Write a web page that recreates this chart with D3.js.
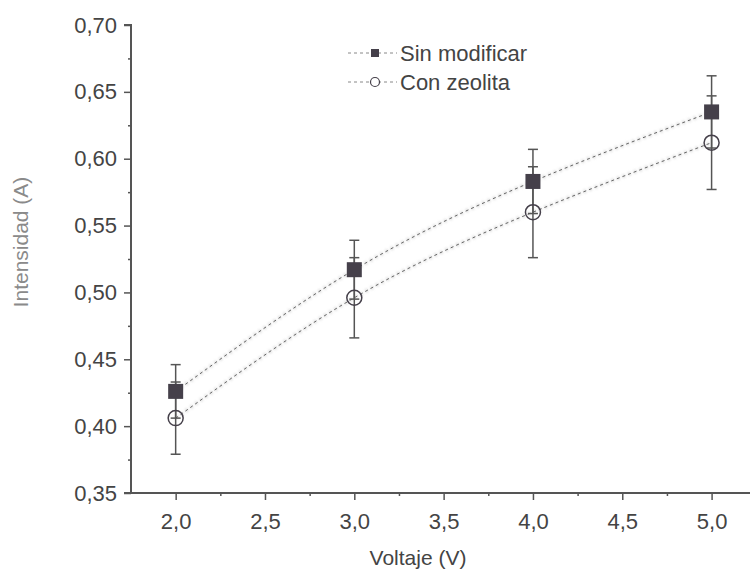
<!DOCTYPE html>
<html>
<head>
<meta charset="UTF-8">
<script src="https://d3js.org/d3.v7.min.js"></script>
<style>
  body { margin: 0; background: #fff; }
  text { font-family: "Liberation Sans", Arial, sans-serif; }
</style>
</head>
<body>
<svg width="750" height="573"></svg>
<script>
// data
const voltaje = [2.0, 3.0, 4.0, 5.0];
const sinModificar = [0.426, 0.517, 0.583, 0.635];
const sinModificarErr = [0.020, 0.022, 0.024, 0.027];
const conZeolita = [0.406, 0.496, 0.560, 0.612];
const conZeolitaErr = [0.027, 0.030, 0.034, 0.035];
const xTicks = [2.0, 2.5, 3.0, 3.5, 4.0, 4.5, 5.0];
const yTicks = [0.35, 0.40, 0.45, 0.50, 0.55, 0.60, 0.65, 0.70];

const svg = d3.select('svg');
const axisColor = '#555';
const markColor = '#45404a';
const textColor = '#444';

const x = d3.scaleLinear().domain([1.75, 5.215]).range([131, 750]);
const y = d3.scaleLinear().domain([0.35, 0.70]).range([493, 25]);

const fmt = (d, n) => d.toFixed(n).replace('.', ',');

// blur for the faint smeared lines
svg.append('defs').append('filter').attr('id', 'blur')
  .append('feGaussianBlur').attr('stdDeviation', 1.2);

const series = [
  { name: 'Sin modificar', vals: sinModificar, err: sinModificarErr, marker: 'square' },
  { name: 'Con zeolita', vals: conZeolita, err: conZeolitaErr, marker: 'circle' }
];

const line = d3.line()
  .x(d => x(d[0]))
  .y(d => y(d[1]))
  .curve(d3.curveNatural);

// dashed connecting curves
series.forEach(s => {
  const pts = voltaje.map((v, i) => [v, s.vals[i]]);
  svg.append('path')
    .attr('d', line(pts))
    .attr('fill', 'none')
    .attr('stroke', '#cfcfcf')
    .attr('stroke-width', 4)
    .attr('stroke-dasharray', '3,3')
    .attr('opacity', 0.6)
    .attr('filter', 'url(#blur)');
  svg.append('path')
    .attr('d', line(pts))
    .attr('fill', 'none')
    .attr('stroke', '#666')
    .attr('stroke-width', 1)
    .attr('stroke-dasharray', '3,3');
});

// error bars
series.forEach(s => {
  const g = svg.append('g').attr('stroke', '#555').attr('stroke-width', 1.5);
  voltaje.forEach((v, i) => {
    const cx = x(v), lo = y(s.vals[i] - s.err[i]), hi = y(s.vals[i] + s.err[i]);
    g.append('line').attr('x1', cx).attr('x2', cx).attr('y1', lo).attr('y2', hi);
    g.append('line').attr('x1', cx - 5).attr('x2', cx + 5).attr('y1', lo).attr('y2', lo);
    g.append('line').attr('x1', cx - 5).attr('x2', cx + 5).attr('y1', hi).attr('y2', hi);
  });
});

// markers
function drawMarker(g, type, cx, cy) {
  if (type === 'square') {
    g.append('rect')
      .attr('x', cx - 7.5).attr('y', cy - 7.5)
      .attr('width', 15).attr('height', 15)
      .attr('fill', markColor);
  } else {
    g.append('circle')
      .attr('cx', cx).attr('cy', cy).attr('r', 7.5)
      .attr('fill', 'none')
      .attr('stroke', markColor).attr('stroke-width', 1.5);
  }
}
series.forEach(s => {
  const g = svg.append('g');
  voltaje.forEach((v, i) => drawMarker(g, s.marker, x(v), y(s.vals[i])));
});

// axes
const yAxis = svg.append('g')
  .attr('transform', `translate(${x(1.75)},0)`)
  .call(d3.axisLeft(y).tickValues(yTicks).tickSize(7).tickPadding(7).tickFormat(d => fmt(d, 2)));
const yMinor = svg.append('g')
  .attr('transform', `translate(${x(1.75)},0)`)
  .call(d3.axisLeft(y).tickValues(yTicks.slice(0, -1).map(d => d + 0.025)).tickSize(3).tickFormat(''));

const xAxis = svg.append('g')
  .attr('transform', `translate(0,${y(0.35)})`)
  .call(d3.axisBottom(x).tickValues(xTicks).tickSize(7).tickPadding(13).tickFormat(d => fmt(d, 1)));
const xMinor = svg.append('g')
  .attr('transform', `translate(0,${y(0.35)})`)
  .call(d3.axisBottom(x).tickValues([2.25, 2.75, 3.25, 3.75, 4.25, 4.75]).tickSize(3).tickFormat(''));

[yAxis, yMinor, xAxis, xMinor].forEach(a => {
  a.select('.domain').attr('stroke', axisColor).attr('stroke-width', 2);
  a.selectAll('.tick line').attr('stroke', axisColor).attr('stroke-width', 1.5);
  a.selectAll('.tick text').attr('fill', textColor).style('font-size', '22px')
    .style('font-family', '"Liberation Sans", Arial, sans-serif');
});
yMinor.select('.domain').remove();
xMinor.select('.domain').remove();
// leftmost tick at 0.35 also crosses the x axis
yAxis.select('.domain').attr('d', `M-7,${y(0.70)}H0V${y(0.35)}H-7`);
xAxis.select('.domain').attr('d', `M${x(1.75)},0H750`);

// axis titles
svg.append('text')
  .attr('x', 418).attr('y', 565)
  .attr('text-anchor', 'middle')
  .attr('fill', textColor)
  .style('font-size', '21px')
  .text('Voltaje (V)');

svg.append('text')
  .attr('transform', 'translate(28,242) rotate(-90)')
  .attr('text-anchor', 'middle')
  .attr('fill', '#8a8a8a')
  .style('font-size', '21px')
  .text('Intensidad (A)');

// legend
const legend = svg.append('g');
series.forEach((s, i) => {
  const ly = 53 + i * 29;
  legend.append('line')
    .attr('x1', 348).attr('x2', 397).attr('y1', ly).attr('y2', ly)
    .attr('stroke', '#888').attr('stroke-width', 1).attr('stroke-dasharray', '3,3');
  if (s.marker === 'square') {
    legend.append('rect').attr('x', 371).attr('y', ly - 4).attr('width', 8).attr('height', 8).attr('fill', markColor);
  } else {
    legend.append('circle').attr('cx', 375).attr('cy', ly).attr('r', 4.5)
      .attr('fill', '#fff').attr('stroke', markColor).attr('stroke-width', 1.2);
  }
  legend.append('text')
    .attr('x', 400).attr('y', ly + 8)
    .attr('fill', textColor)
    .style('font-size', '22px')
    .text(s.name);
});
</script>
</body>
</html>
